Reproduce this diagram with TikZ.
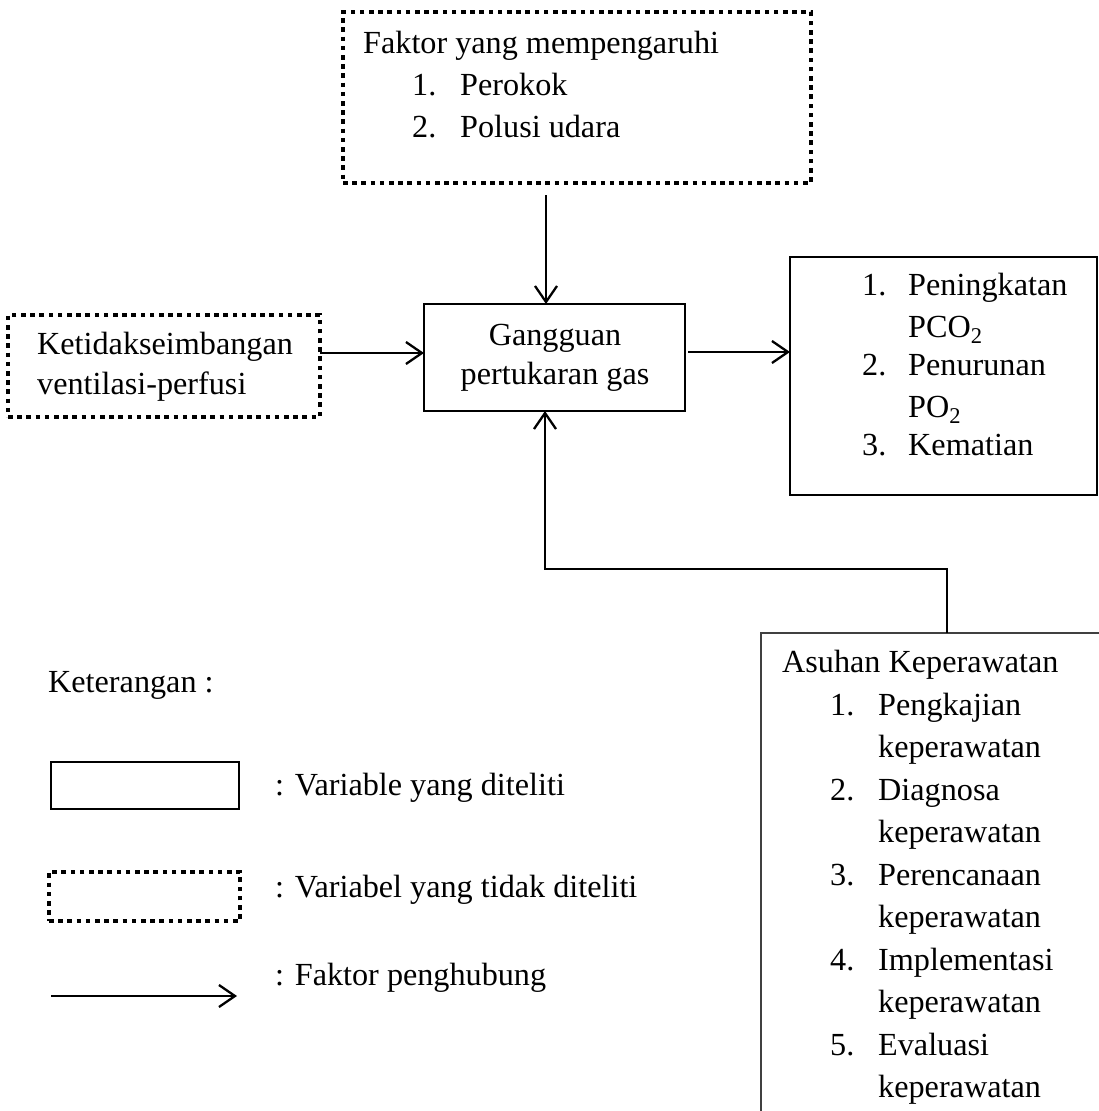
\documentclass[tikz,border=0pt]{standalone}
\usepackage{fontspec}
\setmainfont{Liberation Serif}
\usetikzlibrary{arrows.meta}
\begin{document}
\begin{tikzpicture}[x=1pt,y=-1pt,
  dotbox/.style={draw, line width=4.2pt, dash pattern=on 4.6pt off 4.6pt, inner sep=0pt, outer sep=0pt},
  solidbox/.style={draw, line width=2.8pt, inner sep=0pt, outer sep=0pt},
  thinbox/.style={draw=black!75, line width=1.8pt},
  conn/.style={line width=2.3pt},
  arr/.style={conn, -{Straight Barb[length=16pt,width=22pt]}},
  txt/.style={anchor=base west, inner sep=0pt, font=\fontsize{32.2}{40}\selectfont},
  txtc/.style={anchor=base, inner sep=0pt, font=\fontsize{32.2}{40}\selectfont},
]
\useasboundingbox (0,0) rectangle (1099,1111);
\clip (0,0) rectangle (1099,1111);

% boxes
\node[dotbox, minimum width=468pt, minimum height=171pt] (faktor) at (577,97.5) {};
\node[dotbox, minimum width=312pt, minimum height=102pt] (ketid) at (164,366) {};
\node[solidbox, minimum width=261pt, minimum height=107pt] (gg) at (554.5,357.5) {};
\node[solidbox, line width=2.6pt, minimum width=307pt, minimum height=238pt] (out) at (943.5,376) {};
\node[thinbox, minimum width=400pt, minimum height=520pt, inner sep=0pt, outer sep=0pt, anchor=north west] (asuhan) at (761,633) {};

% texts: faktor
\node[txt] (f0) at (363,53) {Faktor yang mempengaruhi};
\node[txt] (f1n) at (412,95) {1.};
\node[txt] (f1) at (460,95) {Perokok};
\node[txt] (f2n) at (412,137) {2.};
\node[txt] (f2) at (460,137) {Polusi udara};

% ketid
\node[txt] (k1) at (37,354) {Ketidakseimbangan};
\node[txt] (k2) at (37,394) {ventilasi-perfusi};

% gangguan
\node[txtc] (g1) at (555,345) {Gangguan};
\node[txtc] (g2) at (555,384) {pertukaran gas};

% output box
\node[txt] (o1n) at (862,295) {1.};
\node[txt] (o1) at (908,295) {Peningkatan};
\node[txt] (o1b) at (908,337) {PCO\textsubscript{2}};
\node[txt] (o2n) at (862,375) {2.};
\node[txt] (o2) at (908,375) {Penurunan};
\node[txt] (o2b) at (908,417) {PO\textsubscript{2}};
\node[txt] (o3n) at (862,455) {3.};
\node[txt] (o3) at (908,455) {Kematian};

% asuhan
\node[txt] (a0) at (782,672) {Asuhan Keperawatan};
\node[txt] (a1n) at (830,715) {1.};
\node[txt] (a1) at (878,715) {Pengkajian};
\node[txt] (a1b) at (878,757) {keperawatan};
\node[txt] (a2n) at (830,800) {2.};
\node[txt] (a2) at (878,800) {Diagnosa};
\node[txt] (a2b) at (878,842) {keperawatan};
\node[txt] (a3n) at (830,885) {3.};
\node[txt] (a3) at (878,885) {Perencanaan};
\node[txt] (a3b) at (878,927) {keperawatan};
\node[txt] (a4n) at (830,970) {4.};
\node[txt] (a4) at (878,970) {Implementasi};
\node[txt] (a4b) at (878,1012) {keperawatan};
\node[txt] (a5n) at (830,1055) {5.};
\node[txt] (a5) at (878,1055) {Evaluasi};
\node[txt] (a5b) at (878,1097) {keperawatan};

% legend
\node[txt] (ket) at (48,692) {Keterangan :};
\node[solidbox, line width=2.4pt, minimum width=188pt, minimum height=47pt] (legs) at (145,785.5) {};
\node[dotbox, minimum width=191pt, minimum height=49pt] (legd) at (144.5,896.5) {};
\coordinate (la) at (51,996);
\coordinate (lb) at (237,996);
\draw[arr] (la) -- (lb);
\node[txt] (t1) at (275,795) {: Variable yang diteliti};
\node[txt] (t2) at (275,897) {: Variabel yang tidak diteliti};
\node[txt] (t3) at (275,985) {: Faktor penghubung};

% connectors
\coordinate (ctop) at (546,195);
\draw[arr] (ctop) -- (ctop |- gg.north);
\coordinate (yl) at (0,353);
\draw[arr] (ketid.east |- yl) -- (gg.west |- yl);
\coordinate (yr) at (0,352);
\draw[arr, shorten <=3pt] (gg.east |- yr) -- (out.west |- yr);
\coordinate (fb) at (947,569);
\coordinate (fx) at (545,0);
\draw[arr] (fb |- asuhan.north) -- (fb) -| (fx |- gg.south);
\end{tikzpicture}
\end{document}
